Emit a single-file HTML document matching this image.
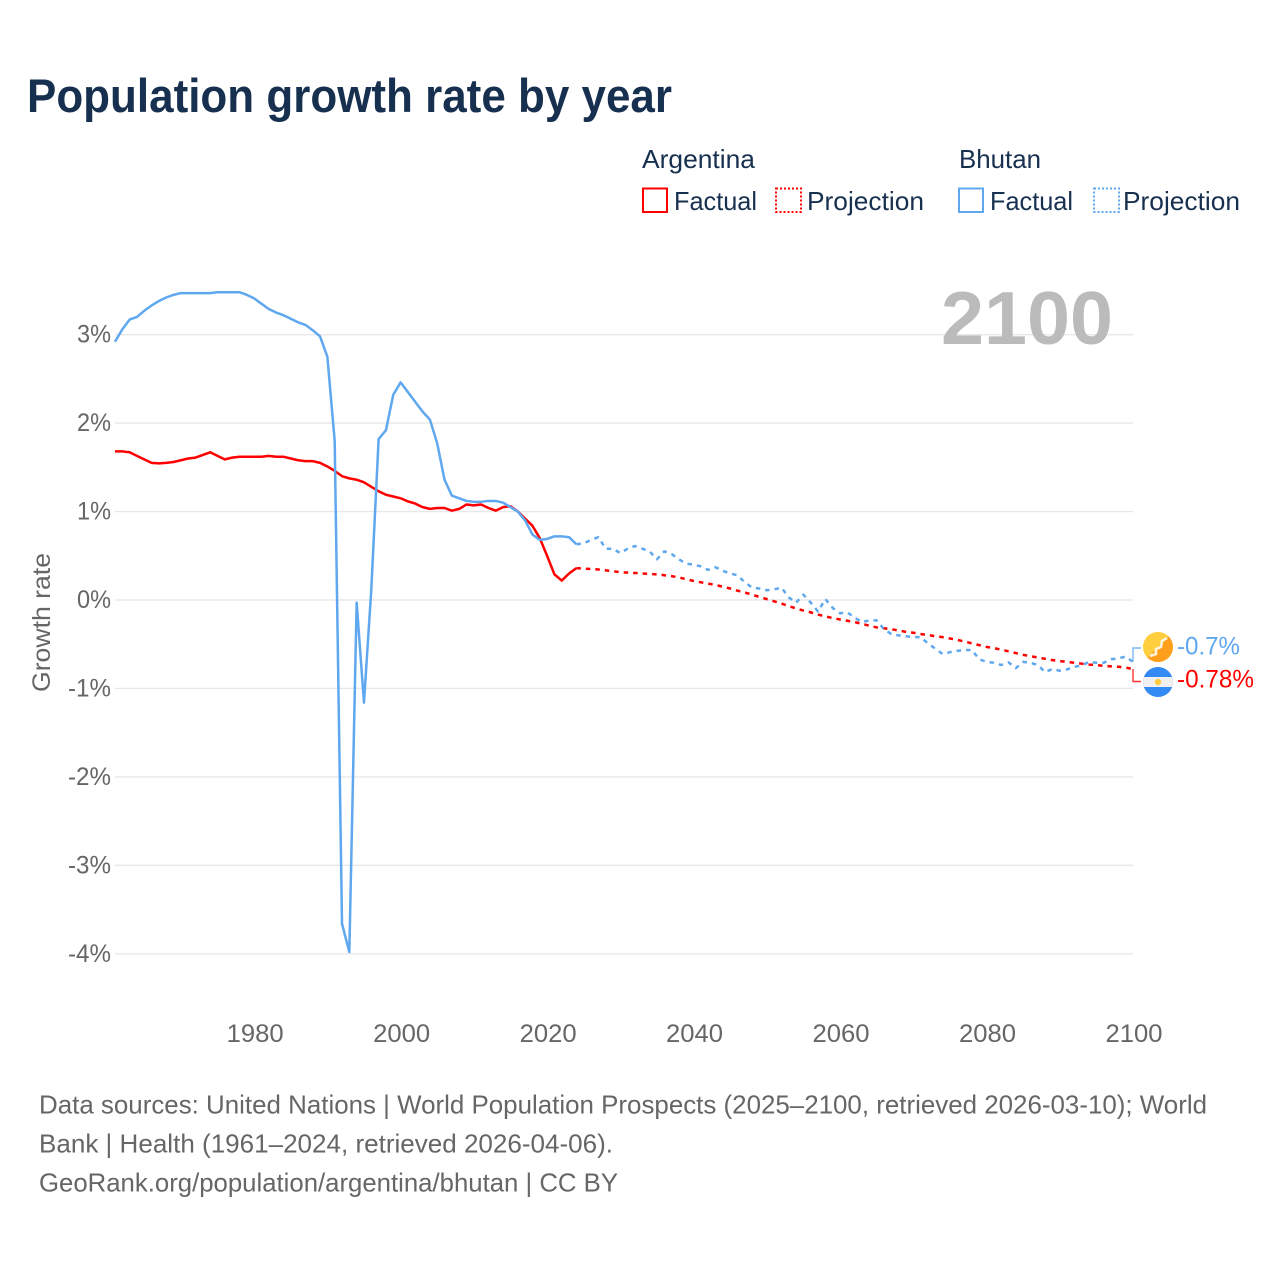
<!DOCTYPE html>
<html lang="en">
<head>
<meta charset="utf-8">
<title>Population growth rate by year</title>
<style>
html,body{margin:0;padding:0;background:#fff;}
svg{display:block;font-family:"Liberation Sans",sans-serif;}
</style>
</head>
<body>
<svg id="chart" width="1280" height="1280" viewBox="0 0 1280 1280" xmlns="http://www.w3.org/2000/svg">
  <rect width="1280" height="1280" fill="#ffffff"/>
  <text x="27" y="112" font-size="47" font-weight="700" fill="#18304f" textLength="645" lengthAdjust="spacingAndGlyphs">Population growth rate by year</text>

  <g font-size="26" fill="#18304f">
    <text x="642" y="168" textLength="113" lengthAdjust="spacingAndGlyphs">Argentina</text>
    <text x="959" y="168" textLength="82" lengthAdjust="spacingAndGlyphs">Bhutan</text>
    <rect x="643" y="188.500" width="24" height="23.500" fill="none" stroke="#ff0000" stroke-width="2"/>
    <text x="674" y="210" textLength="83" lengthAdjust="spacingAndGlyphs">Factual</text>
    <rect x="776" y="188.500" width="25" height="23.500" fill="none" stroke="#ff0000" stroke-width="2" stroke-dasharray="2 2"/>
    <text x="807" y="210" textLength="117" lengthAdjust="spacingAndGlyphs">Projection</text>
    <rect x="959" y="188.500" width="24" height="23.500" fill="none" stroke="#5fa8ef" stroke-width="2"/>
    <text x="990" y="210" textLength="83" lengthAdjust="spacingAndGlyphs">Factual</text>
    <rect x="1094" y="188.500" width="25" height="23.500" fill="none" stroke="#5fa8ef" stroke-width="2" stroke-dasharray="2 2"/>
    <text x="1123" y="210" textLength="117" lengthAdjust="spacingAndGlyphs">Projection</text>
  </g>

  <g id="grid"></g>
  <text x="941" y="344" font-size="75" font-weight="700" fill="#bbbbbb" textLength="172" lengthAdjust="spacingAndGlyphs">2100</text>
  <g id="yticks" font-size="25" fill="#666666" text-anchor="end"></g>
  <g id="xticks" font-size="25" fill="#666666" text-anchor="middle"></g>
  <text transform="translate(50,692) rotate(-90)" font-size="25" fill="#666666" textLength="139" lengthAdjust="spacingAndGlyphs">Growth rate</text>

  <g id="series" fill="none" stroke-width="2.5" stroke-linejoin="round"></g>

  <g id="end-labels">
    <path id="bhutan-connector" fill="none" stroke="#5fa8ef" stroke-width="1.4" opacity="0.8"/>
    <path id="argentina-connector" fill="none" stroke="#ff0000" stroke-width="1.4" opacity="0.8"/>
    <defs>
      <clipPath id="flag-clip-bt"><circle cx="1158" cy="647" r="15"/></clipPath>
      <clipPath id="flag-clip-ar"><circle cx="1158" cy="682" r="15"/></clipPath>
    </defs>
    <g clip-path="url(#flag-clip-bt)">
      <rect x="1143" y="632" width="30" height="30" fill="#ffcf3f"/>
      <polygon points="1173,632 1173,662 1143,662" fill="#ff9f1c"/>
      <polyline points="1150,656 1156,654 1156,649 1161,647 1162,641 1167,638" fill="none" stroke="#fff4dc" stroke-width="2.6"/>
    </g>
    <g clip-path="url(#flag-clip-ar)">
      <rect x="1143" y="667" width="30" height="30" fill="#338af3"/>
      <rect x="1143" y="677" width="30" height="10" fill="#f0f0f0"/>
      <circle cx="1158" cy="682" r="3.2" fill="#ffcb3d"/>
    </g>
    <text x="1177" y="654.500" font-size="25" fill="#5fa8ef" textLength="63" lengthAdjust="spacingAndGlyphs">-0.7%</text>
    <text x="1177" y="687.500" font-size="25" fill="#ff0000" textLength="77" lengthAdjust="spacingAndGlyphs">-0.78%</text>
  </g>

  <g font-size="26" fill="#666666">
    <text x="39" y="1113.500" textLength="1168" lengthAdjust="spacingAndGlyphs">Data sources: United Nations | World Population Prospects (2025–2100, retrieved 2026-03-10); World</text>
    <text x="39" y="1152.500" textLength="574" lengthAdjust="spacingAndGlyphs">Bank | Health (1961–2024, retrieved 2026-04-06).</text>
    <text x="39" y="1191.500" textLength="579" lengthAdjust="spacingAndGlyphs">GeoRank.org/population/argentina/bhutan | CC BY</text>
  </g>
</svg>
<script>
const yTickValues = [3, 2, 1, 0, -1, -2, -3, -4];
const xTickYears = [1980, 2000, 2020, 2040, 2060, 2080, 2100];
const factualStartYear = 1961;
const projectionStartYear = 2025;

const argentinaFactual = [
  1.68,1.68,1.67,1.63,1.59,1.55,1.545,1.55,1.56,
  1.58,1.60,1.61,1.64,1.67,1.63,1.59,1.61,1.62,1.62,
  1.62,1.62,1.63,1.62,1.62,1.60,1.58,1.57,1.57,1.55,
  1.51,1.46,1.40,1.375,1.36,1.33,1.28,1.23,1.19,1.17,
  1.15,1.115,1.09,1.05,1.03,1.04,1.04,1.01,1.03,1.08,
  1.07,1.08,1.04,1.01,1.05,1.06,1.00,0.92,0.84,0.70,
  0.50,0.29,0.22,0.30,0.36
];
const argentinaProjection = [
  0.355,0.35,0.345,0.335,0.325,
  0.315,0.31,0.305,0.30,0.295,0.29,0.28,0.27,0.255,0.235,
  0.215,0.20,0.185,0.17,0.15,0.13,0.105,0.085,0.06,0.035,
  0.01,-0.015,-0.04,-0.07,-0.095,-0.12,-0.14,-0.165,-0.185,-0.205,
  -0.22,-0.235,-0.25,-0.27,-0.29,-0.31,-0.32,-0.33,-0.345,-0.36,
  -0.37,-0.385,-0.395,-0.41,-0.42,-0.435,-0.45,-0.47,-0.49,-0.51,
  -0.53,-0.545,-0.56,-0.58,-0.60,-0.62,-0.635,-0.65,-0.665,-0.68,
  -0.69,-0.70,-0.71,-0.72,-0.73,-0.735,-0.745,-0.75,-0.755,-0.765,-0.78
];
const bhutanFactual = [
  2.92,3.06,3.17,3.20,3.27,3.33,3.38,3.42,3.45,
  3.47,3.47,3.47,3.47,3.47,3.48,3.48,3.48,3.48,3.45,
  3.41,3.35,3.29,3.25,3.22,3.18,3.14,3.11,3.05,2.98,
  2.75,1.80,-3.66,-3.98,-0.03,-1.16,0.12,1.82,1.92,2.32,
  2.46,2.35,2.24,2.13,2.04,1.77,1.36,1.18,1.15,1.12,
  1.11,1.11,1.12,1.12,1.10,1.05,1.00,0.90,0.74,0.68,
  0.69,0.72,0.72,0.71,0.63
];
const bhutanProjection = [
  0.64,0.68,0.71,0.58,0.58,
  0.53,0.58,0.61,0.58,0.55,0.46,0.55,0.52,0.46,0.41,
  0.40,0.38,0.34,0.37,0.33,0.30,0.28,0.20,0.14,0.13,
  0.11,0.12,0.14,0.03,-0.03,0.06,-0.03,-0.13,0.01,-0.09,
  -0.15,-0.14,-0.20,-0.25,-0.23,-0.23,-0.33,-0.385,-0.40,-0.41,
  -0.42,-0.42,-0.49,-0.55,-0.61,-0.59,-0.575,-0.565,-0.565,-0.67,
  -0.70,-0.71,-0.735,-0.705,-0.77,-0.70,-0.71,-0.735,-0.815,-0.78,
  -0.80,-0.785,-0.755,-0.74,-0.70,-0.71,-0.71,-0.67,-0.66,-0.64,-0.70
];

const NS = 'http://www.w3.org/2000/svg';
function xScale(year) { return 1133 - (2100 - year) * 7.324; }
function yScale(value) { return 600 - value * 88.45; }
function make(tag, parentId) {
  const el = document.createElementNS(NS, tag);
  document.getElementById(parentId).appendChild(el);
  return el;
}
function pathFrom(values, startYear, prefix) {
  const pts = values.map(function (v, i) {
    return xScale(startYear + i).toFixed(2) + ',' + yScale(v).toFixed(2);
  });
  return 'M' + prefix.concat(pts).join('L');
}

yTickValues.forEach(function (v) {
  const line = make('line', 'grid');
  
  
  line.setAttribute('x1', 115);
  line.setAttribute('x2', 1133);
  line.setAttribute('y1', yScale(v));
  line.setAttribute('y2', yScale(v));
  line.setAttribute('stroke', '#e8e8e8');
  line.setAttribute('stroke-width', 1.4);

  const label = make('text', 'yticks');
  
  
  label.setAttribute('x', 111);
  label.setAttribute('y', yScale(v) + 8);
  label.setAttribute('textLength', v < 0 ? 43 : 34);
  label.setAttribute('lengthAdjust', 'spacingAndGlyphs');
  label.textContent = v + '%';
});

xTickYears.forEach(function (year) {
  const label = make('text', 'xticks');
  
  
  label.setAttribute('x', xScale(year) + 1);
  label.setAttribute('y', 1042);
  label.setAttribute('textLength', 57);
  label.setAttribute('lengthAdjust', 'spacingAndGlyphs');
  label.textContent = year;
});

function lastPoint(values, startYear) {
  const i = values.length - 1;
  return [xScale(startYear + i).toFixed(2) + ',' + yScale(values[i]).toFixed(2)];
}

const argentinaFactualLine = make('path', 'series');


argentinaFactualLine.setAttribute('stroke', '#ff0000');
argentinaFactualLine.setAttribute('d', pathFrom(argentinaFactual, factualStartYear, []));

const argentinaProjectionLine = make('path', 'series');


argentinaProjectionLine.setAttribute('stroke', '#ff0000');
argentinaProjectionLine.setAttribute('stroke-dasharray', '4.5 5');
argentinaProjectionLine.setAttribute('d', pathFrom(argentinaProjection, projectionStartYear, lastPoint(argentinaFactual, factualStartYear)));

const bhutanFactualLine = make('path', 'series');


bhutanFactualLine.setAttribute('stroke', '#5fa8ef');
bhutanFactualLine.setAttribute('d', pathFrom(bhutanFactual, factualStartYear, []));

const bhutanProjectionLine = make('path', 'series');


bhutanProjectionLine.setAttribute('stroke', '#5fa8ef');
bhutanProjectionLine.setAttribute('stroke-dasharray', '4.5 5');
bhutanProjectionLine.setAttribute('d', pathFrom(bhutanProjection, projectionStartYear, lastPoint(bhutanFactual, factualStartYear)));

const endX = xScale(2100);
const bhutanEndY = yScale(bhutanProjection[bhutanProjection.length - 1]);
const argentinaEndY = yScale(argentinaProjection[argentinaProjection.length - 1]);
document.getElementById('bhutan-connector').setAttribute('d',
  'M' + endX + ',' + bhutanEndY + 'V648H1141');
document.getElementById('argentina-connector').setAttribute('d',
  'M' + endX + ',' + argentinaEndY + 'V681.5H1141');
</script>
</body>
</html>
